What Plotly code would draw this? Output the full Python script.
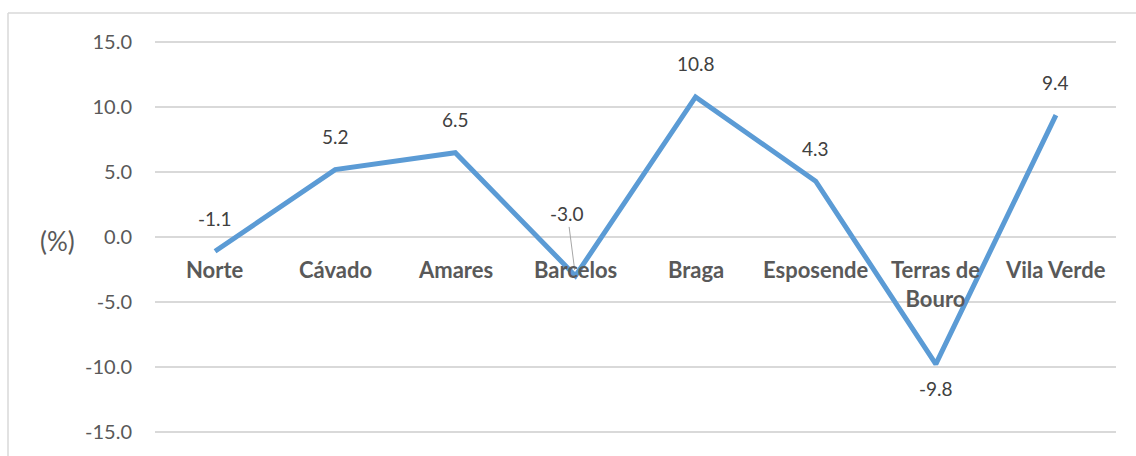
import plotly.graph_objects as go

# Population change by municipality (%)
categories = ["Norte", "Cávado", "Amares", "Barcelos", "Braga", "Esposende", "Terras de Bouro", "Vila Verde"]
category_labels = ["Norte", "Cávado", "Amares", "Barcelos", "Braga", "Esposende", "Terras de<br>Bouro", "Vila Verde"]
values = [-1.1, 5.2, 6.5, -3.0, 10.8, 4.3, -9.8, 9.4]
y_ticks = [-15, -10, -5, 0, 5, 10, 15]

FONT = "Lato"
LINE_COLOR = "#5B9BD5"
GRID_COLOR = "#D9D9D9"

fig = go.Figure()
fig.add_trace(go.Scatter(
    x=categories, y=values, mode="lines",
    line=dict(color=LINE_COLOR, width=5),
    hoverinfo="x+y", showlegend=False,
))

annotations = []
# value labels
for cat, v in zip(categories, values):
    if cat == "Barcelos":
        annotations.append(dict(
            x=cat, y=v, xref="x", yref="y", text=f"{v:.1f}",
            showarrow=True, arrowhead=0, arrowwidth=1, arrowcolor="#A6A6A6",
            ax=-8, ay=-62, standoff=6,
            font=dict(family=FONT, size=19, color="#404040"),
        ))
    elif v == min(values):
        annotations.append(dict(
            x=cat, y=v, xref="x", yref="y", text=f"{v:.1f}", showarrow=False,
            yanchor="middle", yshift=-24,
            font=dict(family=FONT, size=19, color="#404040"),
        ))
    else:
        annotations.append(dict(
            x=cat, y=v, xref="x", yref="y", text=f"{v:.1f}", showarrow=False,
            yanchor="middle", yshift=33,
            font=dict(family=FONT, size=19, color="#404040"),
        ))

# category labels sitting under the zero line
for cat, lab in zip(categories, category_labels):
    annotations.append(dict(
        x=cat, y=0, xref="x", yref="y", text=f"<b>{lab}</b>", showarrow=False,
        yanchor="top", yshift=-17,
        font=dict(family=FONT, size=22, color="#595959"),
    ))

L, R, T, B = 155, 20, 36, 18
W, H = 1136, 456
pw, ph = W - L - R, H - T - B

def px_x(px):
    return (px - L) / pw

def px_y(py):
    return (H - B - py) / ph

# axis unit
annotations.append(dict(
    x=px_x(57), y=0, xref="paper", yref="y", text="(%)", showarrow=False,
    xanchor="center", yanchor="middle", yshift=-4,
    font=dict(family=FONT, size=26, color="#595959"),
))

shapes = [
    dict(type="line", xref="paper", yref="paper",
         x0=px_x(8), x1=px_x(1140), y0=px_y(13), y1=px_y(13),
         line=dict(color=GRID_COLOR, width=1.5)),
    dict(type="line", xref="paper", yref="paper",
         x0=px_x(8), x1=px_x(8), y0=px_y(13), y1=px_y(460),
         line=dict(color=GRID_COLOR, width=1.5)),
]

fig.update_layout(
    width=W, height=H,
    margin=dict(l=L, r=R, t=T, b=B),
    paper_bgcolor="white", plot_bgcolor="white",
    annotations=annotations, shapes=shapes,
    xaxis=dict(type="category", range=[-0.5, 7.5], showticklabels=False,
               showgrid=False, zeroline=False, showline=False),
    yaxis=dict(range=[-15.5, 15.5], tickvals=y_ticks,
               ticktext=[f"{t:.1f}" for t in y_ticks],
               showgrid=True, gridcolor=GRID_COLOR, gridwidth=1.5,
               zeroline=True, zerolinecolor=GRID_COLOR, zerolinewidth=1.5,
               showline=False, ticklabelstandoff=22,
               tickfont=dict(family=FONT, size=20, color="#595959")),
)

fig.write_html("out.html")
